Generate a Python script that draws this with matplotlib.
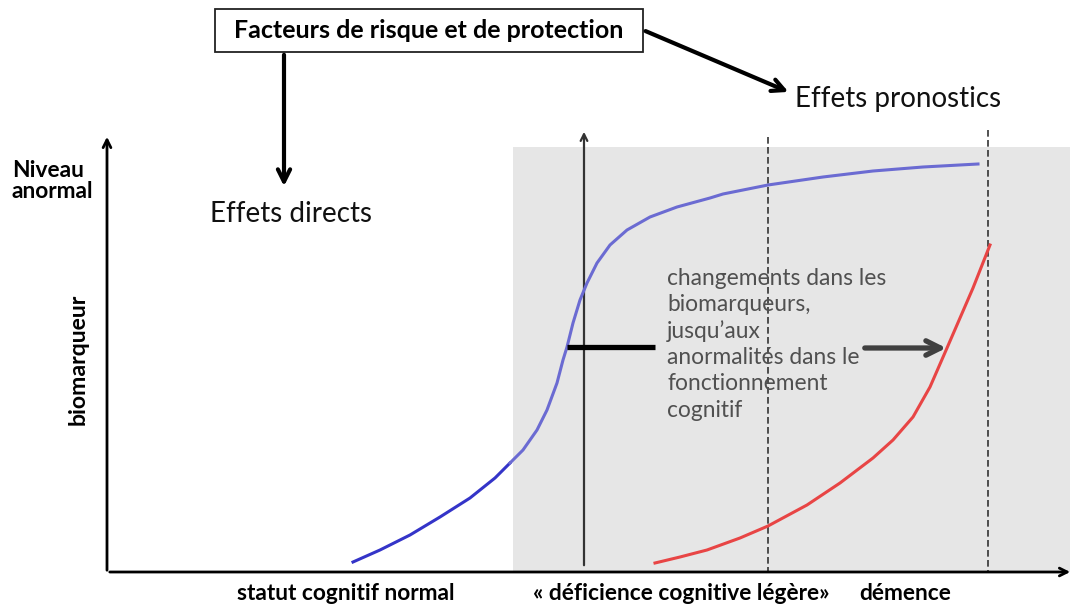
import numpy as np
import matplotlib
matplotlib.use("Agg")
from matplotlib import pyplot as plt
from matplotlib.patches import Rectangle

plt.rcParams['font.family'] = ['Lato', 'DejaVu Sans']

# curves (canvas units, y downwards)
blue_x = [353, 380, 410, 440, 470, 495, 510, 523, 537, 547, 557, 563, 567, 573, 580, 587,
          597, 610, 627, 650, 677, 710, 723, 768, 823, 873, 923, 978]
blue_y = [562, 550, 535, 517, 498, 478, 463, 450, 430, 410, 383, 360, 347, 323, 300, 283,
          263, 245, 230, 217, 207, 198, 194, 185, 177, 171, 167, 164]
red_x = [655, 680, 707, 740, 768, 807, 840, 873, 893, 913, 930, 947, 960, 973, 990]
red_y = [563, 557, 550, 538, 526, 505, 483, 458, 440, 417, 387, 348, 318, 288, 245]

stage_labels = ["statut cognitif normal", "« déficience cognitive légère»", "démence"]
stage_pos = [346, 681, 905]
stage_bounds = [768, 988]   # dashed lines
mci_onset = 584             # solid vertical line

box_text = "Facteurs de risque et de protection"
middle_text = ("changements dans les\nbiomarqueurs,\njusqu\u2019aux\n"
               "anormalités dans le\nfonctionnement\ncognitif")

fig = plt.figure(figsize=(10.75, 6.08), dpi=100)
ax = fig.add_axes([0, 0, 1, 1])
ax.set_xlim(0, 1075)
ax.set_ylim(608, 0)
ax.axis('off')

# grey zone
ax.add_patch(Rectangle((513, 147), 557, 425, facecolor='#e6e6e6', edgecolor='none', zorder=0))

# axes with arrows
ax.annotate('', xy=(1073, 572), xytext=(107, 572),
            arrowprops=dict(arrowstyle='->', lw=2, color='black', mutation_scale=14))
ax.annotate('', xy=(107, 134), xytext=(107, 573),
            arrowprops=dict(arrowstyle='->', lw=2, color='black', mutation_scale=14))

# onset line and stage boundaries
ax.annotate('', xy=(mci_onset, 129), xytext=(mci_onset, 568),
            arrowprops=dict(arrowstyle='->', lw=1.6, color='#333333', mutation_scale=12))
ax.plot([stage_bounds[0]] * 2, [137, 572], color='#333333', lw=1.2, dashes=(4, 2), zorder=2)
ax.plot([stage_bounds[1]] * 2, [130, 572], color='#333333', lw=1.2, dashes=(4, 2), zorder=2)

# curves
bx = np.array(blue_x)
by = np.array(blue_y)
ax.plot(bx[bx <= 513], by[bx <= 513], color='#3434c8', lw=2.2, solid_joinstyle='round', zorder=3)
ax.plot(bx[bx >= 510], by[bx >= 510], color='#6b6bd2', lw=2.2, solid_joinstyle='round', zorder=3)
ax.plot(red_x, red_y, color='#e84545', lw=2.2, solid_joinstyle='round', zorder=3)

# markers for the text block
ax.plot([567, 655], [347, 347], color='black', lw=3.8, solid_capstyle='butt', zorder=4)
ax.annotate('', xy=(949, 348), xytext=(862, 348),
            arrowprops=dict(arrowstyle='->', lw=3.8, color='#404040', mutation_scale=26), zorder=4)
ax.text(667, 268, middle_text, fontsize=16.4, color='#505050', va='top', ha='left',
        linespacing=1.3, zorder=5)

# top box and arrows
ax.add_patch(Rectangle((215, 9), 428, 43, facecolor='white', edgecolor='#222222', lw=1.3, zorder=2))
ax.text(429, 30, box_text, fontsize=18, fontweight='bold', ha='center', va='center', zorder=3)
ax.annotate('', xy=(284, 189), xytext=(284, 52),
            arrowprops=dict(arrowstyle='->', lw=3, color='black', mutation_scale=22))
ax.annotate('', xy=(791, 93), xytext=(643, 30),
            arrowprops=dict(arrowstyle='->', lw=3, color='black', mutation_scale=22))
ax.text(210, 214, "Effets directs", fontsize=20, ha='left', va='center', color='#111111')
ax.text(795, 99, "Effets pronostics", fontsize=20, ha='left', va='center', color='#111111')

# axis labels
ax.text(12, 181, "Niveau\nanormal", fontsize=16.4, fontweight='bold', ha='left', va='center',
        linespacing=1.05)
ax.text(78, 359, "biomarqueur", fontsize=16.6, fontweight='bold', ha='center', va='center',
        rotation=90)
for lab, xp in zip(stage_labels, stage_pos):
    ax.text(xp, 593, lab, fontsize=16.4, fontweight='bold', ha='center', va='center')

fig.savefig('out.png', dpi=100)
